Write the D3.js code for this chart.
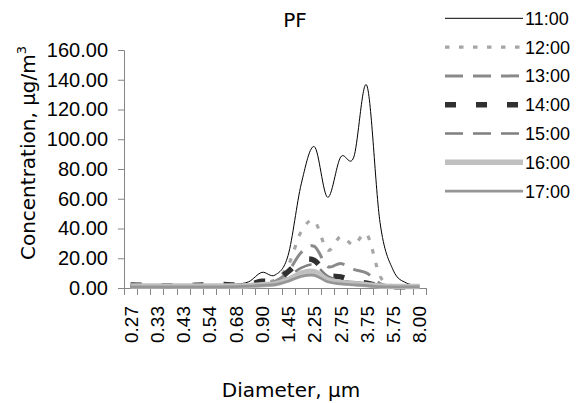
<!DOCTYPE html>
<html>
<head>
<meta charset="utf-8">
<script src="https://cdn.jsdelivr.net/npm/d3@7"></script>
<style>
  body { margin: 0; background: #fff; }
  svg { display: block; }
</style>
</head>
<body>
<script>
// diameters (um), only every second one is labelled on the axis
const diameters = ["0.27","0.29","0.33","0.38","0.43","0.48","0.54","0.62","0.68","0.75","0.90","1.15",
                   "1.45","1.80","2.25","2.50","2.75","3.25","3.75","4.50","5.75","7.00","8.00"];
const yTicks = [0, 20, 40, 60, 80, 100, 120, 140, 160];

// concentration per hour, ug/m3
const s1100 = [1.8,1.8,1.8,1.8,1.8,1.8,2,2.2,2.6,4.2,10.5,8.7,22,70,95,61,88,88,136,44,12,3.4,2];
const s1200 = [1.2,1.2,1.2,1.2,1.2,1.2,1.3,1.4,1.6,2.5,4,5.5,15,38,45,25.5,34.5,29,36,8,1.2,0.8,0.8];
const s1300 = [1.2,1.2,1.2,1.2,1.2,1.2,1.4,1.6,1.6,2.2,3.5,4.5,11,24,28,14.5,16.5,12.5,10,3,1,0.8,0.8];
const s1400 = [2,1.8,1.5,1.5,1.5,1.8,2.3,2.3,2,2.5,4.5,5,11,18.3,18.5,9,7.5,4.7,3.2,1.2,0.8,0.8,0.8];
const s1500 = [1,1,1,1,1,1,1.1,1.2,1.3,1.6,2.6,3.2,7.5,13.5,15.5,8,5,4,3,1.2,0.8,0.8,0.8];
const s1600 = [1.3,1.3,1.3,1.3,1.3,1.3,1.3,1.3,1.3,1.5,2.2,2.8,5.5,10,11,5.5,3.8,2.8,2.2,1.3,1,1,1];
const s1700 = [0.8,0.8,0.8,0.8,0.8,0.8,0.8,0.8,0.9,1.2,1.8,2.3,4.5,7.8,8.5,4.2,2.8,2.2,1.6,0.9,0.7,0.7,0.7];

const series = [
  {name: "11:00", values: s1100, color: "#000000", width: 1,   dash: null},
  {name: "12:00", values: s1200, color: "#a6a6a6", width: 3.2, dash: "4.5,9.5"},
  {name: "13:00", values: s1300, color: "#8a8a8a", width: 3,   dash: "18,10"},
  {name: "14:00", values: s1400, color: "#303030", width: 5.5, dash: "11,20"},
  {name: "15:00", values: s1500, color: "#7f7f7f", width: 2.5, dash: "18,10"},
  {name: "16:00", values: s1600, color: "#c0c0c0", width: 5.5, dash: null},
  {name: "17:00", values: s1700, color: "#969696", width: 2.7, dash: null}
];

const W = 578, H = 403;
const svg = d3.select("body").append("svg").attr("width", W).attr("height", H);

const x = d3.scaleBand().domain(diameters).range([124, 426]).padding(0);
const y = d3.scaleLinear().domain([0, 160]).range([288, 50]);
const cx = d => x(d) + x.bandwidth() / 2;

const axisColor = "#868686";
const tickFont = "Liberation Sans, Arial, sans-serif";
const titleFont = "DejaVu Sans, sans-serif";

// y axis
const yAxis = svg.append("g")
    .attr("transform", "translate(124,0)")
    .call(d3.axisLeft(y).tickValues(yTicks).tickFormat(d3.format(".2f")).tickSize(6).tickPadding(10));
yAxis.select(".domain").attr("stroke", axisColor);
yAxis.selectAll(".tick line").attr("stroke", axisColor);
yAxis.selectAll("text").attr("font-family", tickFont).attr("font-size", 20).attr("fill", "#000");

// x axis: line, ticks between categories, labels on every second category
const xg = svg.append("g");
xg.append("line")
    .attr("x1", x.range()[0]).attr("x2", x.range()[1])
    .attr("y1", y(0) + 0.5).attr("y2", y(0) + 0.5)
    .attr("stroke", axisColor);
xg.selectAll("line.tk")
  .data(diameters.map(d => x(d)).concat([x.range()[1]]))
  .join("line")
    .attr("class", "tk")
    .attr("x1", d => Math.round(d) + 0.5).attr("x2", d => Math.round(d) + 0.5)
    .attr("y1", y(0)).attr("y2", y(0) + 7)
    .attr("stroke", axisColor);
xg.selectAll("text")
  .data(diameters.filter((d, i) => i % 2 === 0))
  .join("text")
    .attr("transform", d => `translate(${cx(d) + 7},306) rotate(-90)`)
    .attr("text-anchor", "end")
    .attr("font-family", tickFont)
    .attr("font-size", 19)
    .text(d => d);

// lines
const line = d3.line()
    .x((v, i) => cx(diameters[i]))
    .y(v => y(v))
    .curve(d3.curveCardinal.tension(0));

svg.append("g").selectAll("path")
  .data(series)
  .join("path")
    .attr("fill", "none")
    .attr("stroke", d => d.color)
    .attr("stroke-width", d => d.width)
    .attr("stroke-dasharray", d => d.dash)
    .attr("d", d => line(d.values));

// titles
svg.append("text")
    .attr("x", 295).attr("y", 27)
    .attr("text-anchor", "middle")
    .attr("font-family", titleFont).attr("font-size", 20)
    .text("PF");

svg.append("text")
    .attr("x", 291).attr("y", 397)
    .attr("text-anchor", "middle")
    .attr("font-family", titleFont).attr("font-size", 20)
    .text("Diameter, μm");

const yt = svg.append("text")
    .attr("transform", "translate(35,153) rotate(-90)")
    .attr("text-anchor", "middle")
    .attr("font-family", titleFont).attr("font-size", 20);
yt.append("tspan").text("Concentration, μg/m");
yt.append("tspan").attr("dy", -9).attr("font-size", 13).text("3");

// legend
const lg = svg.append("g").selectAll("g")
  .data(series)
  .join("g")
    .attr("transform", (d, i) => `translate(0,${18.3 + i * 28.8})`);
lg.append("line")
    .attr("x1", 445).attr("x2", 523)
    .attr("stroke", d => d.color)
    .attr("stroke-width", d => d.width)
    .attr("stroke-dasharray", d => d.dash);
lg.append("text")
    .attr("x", 525).attr("y", 6.5)
    .attr("font-family", tickFont).attr("font-size", 18)
    .text(d => d.name);
</script>
</body>
</html>
